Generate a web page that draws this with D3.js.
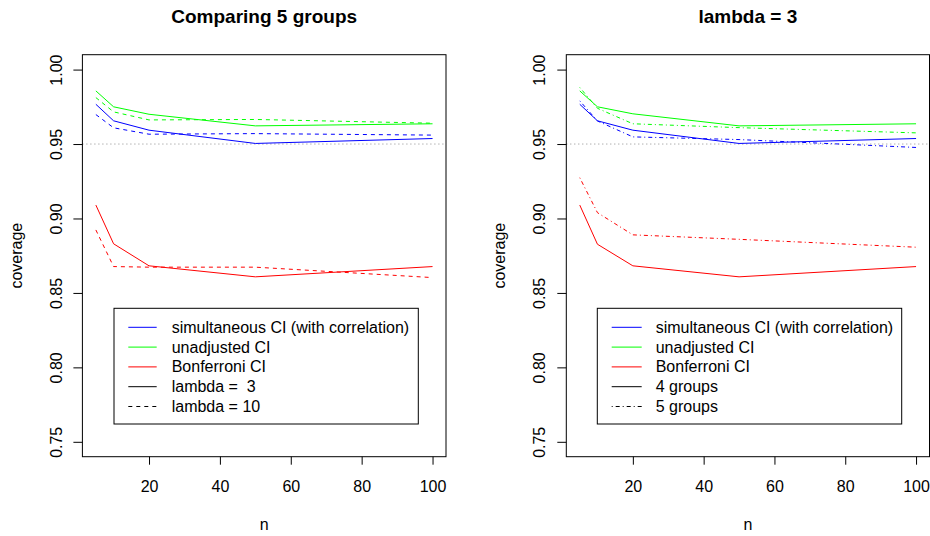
<!DOCTYPE html>
<html><head><meta charset="utf-8">
<script src="https://cdn.jsdelivr.net/npm/d3@7"></script>
<style>body{margin:0;background:#fff}svg{display:block}text{font-family:"Liberation Sans",Arial,sans-serif;fill:#000;white-space:pre}</style>
</head><body><svg id="c" width="930" height="536"></svg>
<script>
const nValues = [5, 10, 20, 50, 100];
const xTicks = [20, 40, 60, 80, 100];
const yTicks = [0.75, 0.80, 0.85, 0.90, 0.95, 1.00];

// Left panel: Comparing 5 groups
const leftSimL3  = [0.9767, 0.9656, 0.9593, 0.9504, 0.9537];
const leftSimL10 = [0.9698, 0.9609, 0.9566, 0.9570, 0.9560];
const leftUnaL3  = [0.9857, 0.9750, 0.9700, 0.9622, 0.9636];
const leftUnaL10 = [0.9812, 0.9716, 0.9662, 0.9665, 0.9640];
const leftBonL3  = [0.9090, 0.8830, 0.8682, 0.8608, 0.8677];
const leftBonL10 = [0.8923, 0.8677, 0.8673, 0.8673, 0.8603];

// Right panel: lambda = 3
const rightSim4  = [0.9767, 0.9656, 0.9593, 0.9504, 0.9537];
const rightSim5  = [0.9790, 0.9655, 0.9548, 0.9530, 0.9477];
const rightUna4  = [0.9857, 0.9750, 0.9703, 0.9622, 0.9636];
const rightUna5  = [0.9880, 0.9740, 0.9636, 0.9610, 0.9575];
const rightBon4  = [0.9090, 0.8827, 0.8682, 0.8608, 0.8677];
const rightBon5  = [0.9274, 0.9039, 0.8890, 0.8860, 0.8807];

const reference = 0.95;
const legendLeft = ["simultaneous CI (with correlation)", "unadjusted CI", "Bonferroni CI", "lambda =  3", "lambda = 10"];
const legendRight = ["simultaneous CI (with correlation)", "unadjusted CI", "Bonferroni CI", "4 groups", "5 groups"];

const BLUE = "#0000FF", GREEN = "#00FF00", RED = "#FF0000";
const DASH = "4,4", DOTDASH = "1,3,4,3";
const FS = "16px";

const svg = d3.select("#c");

function panel(cfg) {
  const x = d3.scaleLinear().domain([1.2, 103.8]).range([cfg.x0, cfg.x1]);
  const y = d3.scaleLinear().domain([0.74, 1.01]).range([456.7, 54.7]);
  const g = svg.append("g");
  g.append("text").attr("x", (cfg.x0 + cfg.x1) / 2).attr("y", 23).attr("text-anchor", "middle")
    .style("font-weight", "bold").style("font-size", "19px").text(cfg.title);
  g.append("line").attr("x1", cfg.x0).attr("x2", cfg.x1).attr("y1", y(reference)).attr("y2", y(reference))
    .attr("stroke", "#8c8c8c").attr("stroke-dasharray", "1,3").attr("stroke-width", 1);
  const line = d3.line().x((d, i) => x(nValues[i])).y(d => y(d));
  cfg.series.forEach(s => {
    g.append("path").attr("d", line(s.v)).attr("fill", "none").attr("stroke", s.c)
      .attr("stroke-width", 1).attr("stroke-dasharray", s.dash || null);
  });
  g.append("rect").attr("x", cfg.x0).attr("y", 54.7).attr("width", cfg.x1 - cfg.x0).attr("height", 456.7 - 54.7)
    .attr("fill", "none").attr("stroke", "#000").attr("stroke-width", 1);
  const xa = g.append("g").attr("transform", "translate(0,456.7)")
    .call(d3.axisBottom(x).tickValues(xTicks).tickSize(8).tickFormat(d3.format("d")));
  xa.select(".domain").remove();
  xa.selectAll("line").attr("stroke", "#000");
  xa.selectAll("text").attr("y", 492.3 - 456.7).attr("dy", "0").style("font-size", FS);
  const ya = g.append("g").attr("transform", `translate(${cfg.x0},0)`)
    .call(d3.axisLeft(y).tickValues(yTicks).tickSize(9).tickFormat(d3.format(".2f")));
  ya.select(".domain").remove();
  ya.selectAll("line").attr("stroke", "#000");
  ya.selectAll("text").remove();
  ya.selectAll(".tick").append("text").attr("transform", `translate(${cfg.ylabX - cfg.x0},0) rotate(-90)`)
    .attr("text-anchor", "middle").style("font-size", FS).text(d => d3.format(".2f")(d));
  g.append("text").attr("x", (cfg.x0 + cfg.x1) / 2).attr("y", 530).attr("text-anchor", "middle")
    .style("font-size", FS).text("n");
  g.append("text").attr("transform", `translate(${cfg.covX},255.7) rotate(-90)`).attr("text-anchor", "middle")
    .style("font-size", FS).text("coverage");
  const L = cfg.legend;
  g.append("rect").attr("x", L.x0).attr("y", 308.3).attr("width", L.x1 - L.x0).attr("height", 424 - 308.3)
    .attr("fill", "#fff").attr("stroke", "#000").attr("stroke-width", 1);
  const rowY = d3.scaleLinear().domain([0, 4]).range([327.3, 406.5]);
  L.items.forEach((it, i) => {
    g.append("line").attr("x1", L.lx0).attr("x2", L.lx1).attr("y1", rowY(i)).attr("y2", rowY(i))
      .attr("stroke", it.c).attr("stroke-width", 1).attr("stroke-dasharray", it.dash || null);
    g.append("text").attr("x", L.tx).attr("y", rowY(i) + 5.5).style("font-size", FS).text(it.t);
  });
}

panel({
  x0: 82.4, x1: 446, ylabX: 61.6, covX: 21.6, title: "Comparing 5 groups",
  series: [
    {v: leftUnaL10, c: GREEN, dash: DASH}, {v: leftSimL10, c: BLUE, dash: DASH}, {v: leftBonL10, c: RED, dash: DASH},
    {v: leftUnaL3, c: GREEN}, {v: leftSimL3, c: BLUE}, {v: leftBonL3, c: RED}
  ],
  legend: {x0: 114, x1: 418.3, lx0: 128.3, lx1: 156.7, tx: 171.7,
    items: [{t: legendLeft[0], c: BLUE}, {t: legendLeft[1], c: GREEN}, {t: legendLeft[2], c: RED},
            {t: legendLeft[3], c: "#000"}, {t: legendLeft[4], c: "#000", dash: DASH}]}
});

panel({
  x0: 566.3, x1: 929.5, ylabX: 544.8, covX: 505, title: "lambda = 3",
  series: [
    {v: rightUna5, c: GREEN, dash: DOTDASH}, {v: rightSim5, c: BLUE, dash: DOTDASH}, {v: rightBon5, c: RED, dash: DOTDASH},
    {v: rightUna4, c: GREEN}, {v: rightSim4, c: BLUE}, {v: rightBon4, c: RED}
  ],
  legend: {x0: 597.3, x1: 901.7, lx0: 611.7, lx1: 641.7, tx: 655.7,
    items: [{t: legendRight[0], c: BLUE}, {t: legendRight[1], c: GREEN}, {t: legendRight[2], c: RED},
            {t: legendRight[3], c: "#000"}, {t: legendRight[4], c: "#000", dash: DOTDASH}]}
});
</script></body></html>
